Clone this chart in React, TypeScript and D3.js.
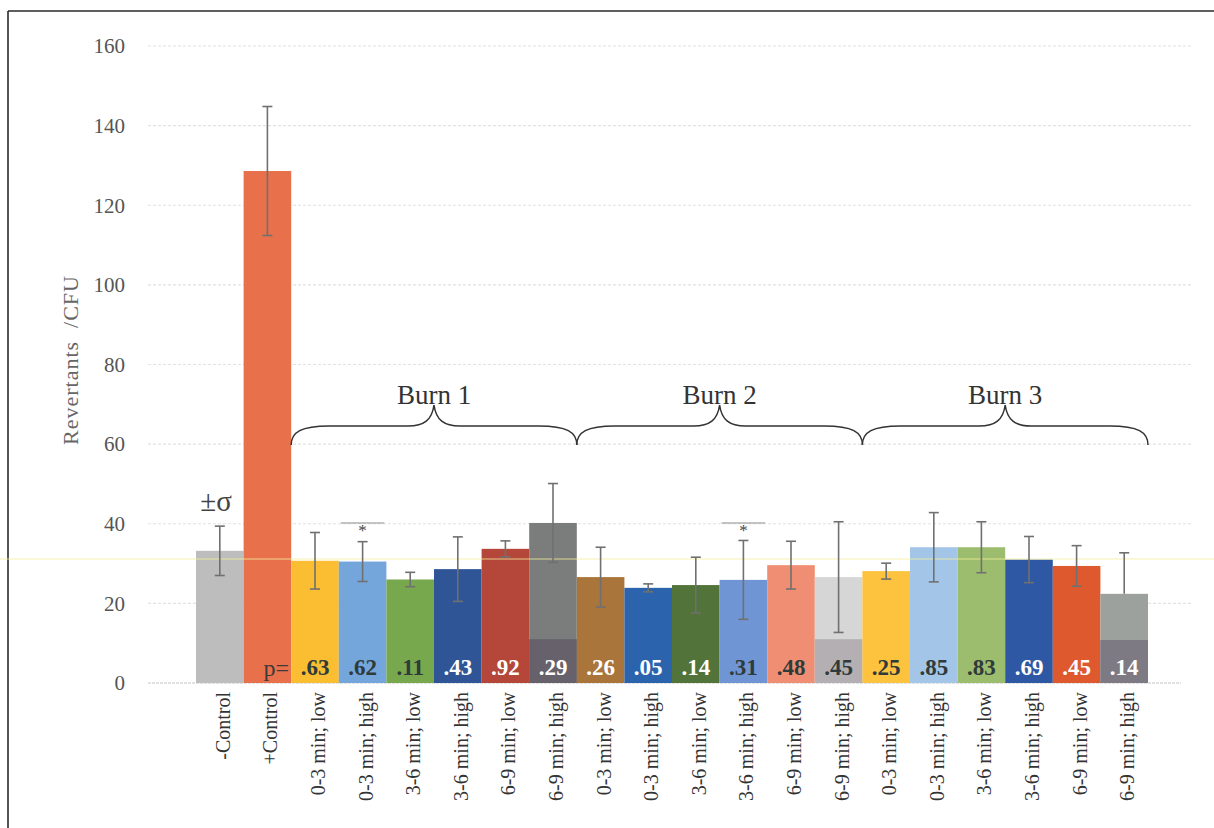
import React from "react";
import * as d3 from "d3";

const categories = [
  "-Control", "+Control",
  "0-3 min; low", "0-3 min; high", "3-6 min; low", "3-6 min; high", "6-9 min; low", "6-9 min; high",
  "0-3 min; low", "0-3 min; high", "3-6 min; low", "3-6 min; high", "6-9 min; low", "6-9 min; high",
  "0-3 min; low", "0-3 min; high", "3-6 min; low", "3-6 min; high", "6-9 min; low", "6-9 min; high",
];
const values = [33.2, 128.6, 30.7, 30.5, 26.0, 28.6, 33.7, 40.2, 26.6, 23.9, 24.6, 25.9, 29.6, 26.6, 28.1, 34.1, 34.1, 31.0, 29.4, 22.4];
const errUp = [6.2, 16.2, 7.1, 5.0, 1.8, 8.1, 2.0, 9.9, 7.5, 1.0, 7.0, 9.9, 6.0, 13.9, 2.0, 8.7, 6.4, 5.8, 5.1, 10.3];
const errDown = [6.2, 16.2, 7.1, 5.0, 1.8, 8.1, 2.0, 9.9, 7.5, 1.0, 7.0, 9.9, 6.0, 13.9, 2.0, 8.7, 6.4, 5.8, 5.1, 0];
const pValues = [null, null, ".63", ".62", ".11", ".43", ".92", ".29", ".26", ".05", ".14", ".31", ".48", ".45", ".25", ".85", ".83", ".69", ".45", ".14"];
const pDark = [false, false, true, true, true, false, false, false, false, false, false, true, true, true, true, true, true, false, false, false];
const lowerSegment = [0, 0, 0, 0, 0, 0, 0, 11, 0, 0, 0, 0, 0, 11, 0, 0, 0, 0, 0, 10.8];
const colors = [
  "#bdbdbd", "#e8714c",
  "#fbbd32", "#74a6dc", "#78a84e", "#2f5596", "#b4473a", "#7a7d7b",
  "#a9753a", "#2c63ad", "#52733a", "#7095d4", "#f08e73", "#d6d6d6",
  "#fdc23e", "#a2c5e8", "#9dbd6e", "#2e58a4", "#de5a2e", "#9ca19e",
];
const lowerColors = ["", "", "", "", "", "", "", "#66616a", "", "", "", "", "", "#b3afb3", "", "", "", "", "", "#7e7a84"];
const starred = [3, 11];
const groups = [
  { label: "Burn 1", from: 2, to: 7 },
  { label: "Burn 2", from: 8, to: 13 },
  { label: "Burn 3", from: 14, to: 19 },
];
const yTicks = [0, 20, 40, 60, 80, 100, 120, 140, 160];

const W = 1214, H = 828;
const FONT = "'Liberation Serif', 'DejaVu Serif', serif";

export default function App() {
  const ids = categories.map((_, i) => String(i));
  const x = d3.scaleBand<string>().domain(ids).range([196, 1148]).padding(0);
  const y = d3.scaleLinear().domain([0, 160]).range([683, 46]);
  const bw = x.bandwidth();
  const gridX0 = 148, gridX1 = 1192;

  const bracePath = (x0: number, x1: number) => {
    const tip = (x0 + x1) / 2;
    const yEnd = 445, yMid = 426, yTip = 405;
    return `M${x0},${yEnd} C${x0},${yMid + 6} ${x0 + 10},${yMid} ${x0 + 38},${yMid} L${tip - 26},${yMid} C${tip - 10},${yMid} ${tip - 2},${yMid - 6} ${tip},${yTip} C${tip + 2},${yMid - 6} ${tip + 10},${yMid} ${tip + 26},${yMid} L${x1 - 38},${yMid} C${x1 - 10},${yMid} ${x1},${yMid + 6} ${x1},${yEnd}`;
  };

  return (
    <svg width={W} height={H} style={{ position: "absolute", left: 0, top: 0, background: "#fff" }} fontFamily={FONT}>
      <rect x={0} y={0} width={W} height={H} fill="#fff" />
      {/* frame */}
      <line x1={8} y1={11} x2={W} y2={11} stroke="#2a2a2a" strokeWidth={1.6} />
      <line x1={8} y1={11} x2={8} y2={H} stroke="#2a2a2a" strokeWidth={1.6} />

      {/* grid */}
      {yTicks.map((t) => (
        <g key={t}>
          <line x1={gridX0} x2={t === 0 ? 1181 : gridX1} y1={y(t)} y2={y(t)}
            stroke={t === 0 ? "#c4c4c4" : "#e2e2e2"} strokeWidth={1.2} strokeDasharray={t === 0 ? "3 1" : "3 2"} />
          <text x={125} y={y(t)} dy="0.35em" textAnchor="end" fontSize={21} fill="#555">{t}</text>
        </g>
      ))}

      {/* y axis title */}
      <text transform={`translate(78,${360}) rotate(-90)`} textAnchor="middle" fontSize={22} letterSpacing={1} fill="#666" style={{ whiteSpace: "pre" }}>
        {"Revertants  /CFU"}
      </text>

      {/* bars */}
      {values.map((v, i) => (
        <g key={i}>
          <rect x={x(String(i))!} y={y(v)} width={bw} height={y(0) - y(v)} fill={colors[i]} />
          {lowerSegment[i] > 0 && (
            <rect x={x(String(i))!} y={y(lowerSegment[i])} width={bw} height={y(0) - y(lowerSegment[i])} fill={lowerColors[i]} />
          )}
        </g>
      ))}

      {/* scan artifact line */}
      <line x1={0} x2={W} y1={559} y2={559} stroke="#f3ef9a" strokeWidth={1.2} opacity={0.8} />

      {/* error bars */}
      {values.map((v, i) => {
        const cx = x(String(i))! + bw / 2;
        const top = y(v + errUp[i]);
        const bot = y(v - errDown[i]);
        return (
          <g key={i} stroke="#707070" strokeWidth={1.6}>
            <line x1={cx} x2={cx} y1={top} y2={bot} />
            <line x1={cx - 5} x2={cx + 5} y1={top} y2={top} />
            {errDown[i] > 0 && <line x1={cx - 5} x2={cx + 5} y1={bot} y2={bot} />}
          </g>
        );
      })}

      {/* significance marks */}
      {starred.map((i) => {
        const x0 = x(String(i))!;
        return (
          <g key={i}>
            <line x1={x0 + 2} x2={x0 + bw - 2} y1={523} y2={523} stroke="#b0b0b0" strokeWidth={1.3} />
            <text x={x0 + bw / 2} y={536} textAnchor="middle" fontSize={17} fill="#444">*</text>
          </g>
        );
      })}

      {/* sigma label */}
      <text x={216} y={511} textAnchor="middle" fontSize={29} fill="#444">±σ</text>

      {/* p values */}
      <text x={289} y={676} textAnchor="end" fontSize={24} fill="#3a3a3a">p=</text>
      {pValues.map((p, i) => p && (
        <text key={i} x={x(String(i))! + bw / 2} y={675} textAnchor="middle" fontSize={23} fontWeight="bold"
          fill={pDark[i] ? "#2f3a3a" : "#ffffff"}>{p}</text>
      ))}

      {/* x labels */}
      {categories.map((c, i) => (
        <text key={i} transform={`translate(${x(String(i))! + bw / 2 + 3},692) rotate(-90)`} textAnchor="end" dy="0.35em" fontSize={20} fill="#333">{c}</text>
      ))}

      {/* braces */}
      {groups.map((g) => {
        const x0 = x(String(g.from))!;
        const x1 = x(String(g.to))! + bw;
        return (
          <g key={g.label}>
            <path d={bracePath(x0, x1)} fill="none" stroke="#333" strokeWidth={1.5} />
            <text x={(x0 + x1) / 2} y={404} textAnchor="middle" fontSize={27} fill="#333">{g.label}</text>
          </g>
        );
      })}
    </svg>
  );
}
